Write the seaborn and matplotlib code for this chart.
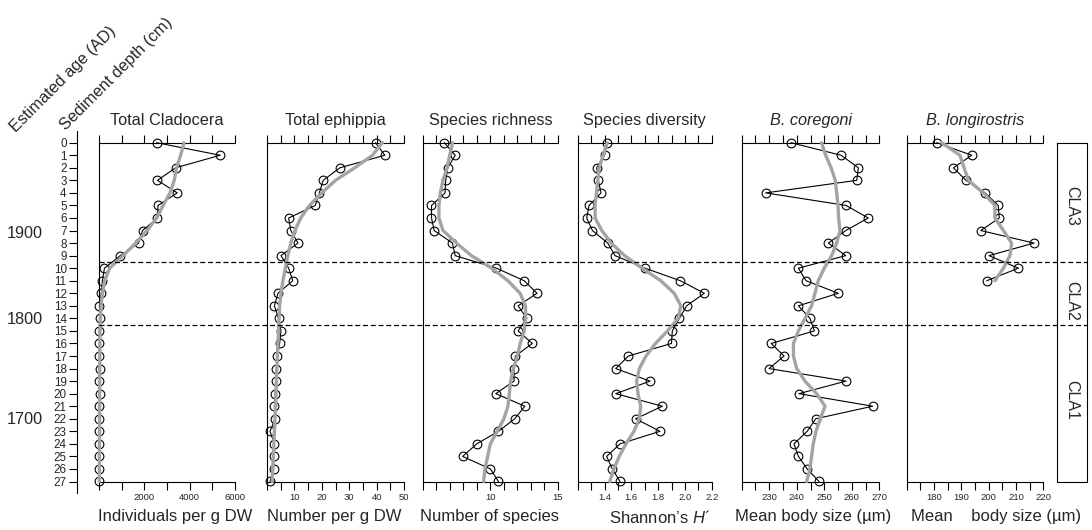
import numpy as np
import pandas as pd
import seaborn as sns
import matplotlib
matplotlib.use("Agg")
import matplotlib.pyplot as plt
from matplotlib import transforms

# ---------------- data ----------------
depths = list(range(28))

cladocera = [2540, 5350, 3380, 2580, 3450, 2600, 2580, 1920, 1750, 940, 240, 150, 100, 20,
             30, 10, 20, 20, 30, 20, 30, 10, 20, 20, 20, 20, 20, 10]
cladocera_smooth = [3750, 3600, 3420, 3320, 3130, 2830, 2540, 2120, 1620, 1060, 470, 250, 150, 90,
                    60, 45, 40, 35, 32, 30, 28, 26, 24, 22, 20, 18, 16, 15]

ephippia = [39.6, 43.0, 26.6, 20.5, 19.1, 17.6, 7.9, 8.7, 11.3, 5.1, 7.9, 9.4, 4.0, 2.7,
            4.2, 5.1, 4.6, 3.8, 3.4, 3.3, 3.0, 2.7, 3.0, 1.1, 2.7, 2.4, 2.4, 1.1]
ephippia_smooth = [42.1, 38.5, 32.0, 25.0, 20.0, 15.5, 12.3, 10.2, 8.7, 7.6, 6.7, 5.8, 5.1, 4.6,
                   4.4, 4.2, 4.0, 3.8, 3.6, 3.4, 3.3, 3.1, 2.9, 2.7, 2.5, 2.3, 2.1, 1.9]

richness = [6.6, 7.4, 6.85, 6.7, 6.65, 5.65, 5.65, 5.85, 7.2, 7.4, 10.45, 12.5, 13.45, 12.05,
            12.7, 12.05, 13.1, 11.85, 11.75, 11.75, 10.4, 12.55, 11.8, 10.6, 9.0, 7.95, 10.0, 10.6]
richness_smooth = [7.2, 7.0, 6.8, 6.5, 6.3, 6.2, 6.2, 6.5, 7.5, 8.6, 10.1, 11.3, 12.2, 12.6,
                   12.6, 12.5, 12.2, 12.0, 11.7, 11.5, 11.4, 11.3, 11.0, 10.5, 10.0, 9.8, 9.6, 9.5]

shannon = [1.421, 1.40, 1.342, 1.354, 1.374, 1.285, 1.267, 1.31, 1.424, 1.479, 1.702, 1.966,
           2.145, 2.013, 1.959, 1.906, 1.90, 1.578, 1.484, 1.74, 1.484, 1.832, 1.632, 1.814,
           1.516, 1.416, 1.458, 1.516]
shannon_smooth = [1.42, 1.39, 1.36, 1.35, 1.34, 1.33, 1.33, 1.38, 1.45, 1.55, 1.68, 1.82, 1.92,
                  1.97, 1.95, 1.87, 1.78, 1.71, 1.66, 1.64, 1.65, 1.67, 1.66, 1.62, 1.56, 1.51,
                  1.47, 1.44]

coregoni = [237.9, 256.1, 262.4, 261.8, 228.7, 257.9, 266.0, 257.8, 251.5, 257.8, 240.6, 243.4,
            255.1, 240.6, 244.8, 246.4, 230.7, 235.4, 229.9, 257.9, 240.8, 267.6, 246.9, 243.8,
            239.0, 240.6, 243.8, 248.1]
coregoni_smooth = [249.0, 250.5, 252.5, 254.0, 254.5, 255.0, 255.2, 255.7, 254.5, 252.7, 250.0,
                   247.8, 246.6, 245.4, 243.0, 240.6, 238.8, 238.8, 240.0, 243.0, 247.2, 250.3,
                   248.5, 247.0, 246.0, 245.4, 244.8, 243.6]

longi_depths = list(range(12))
longirostris = [181.0, 193.8, 187.1, 191.7, 198.7, 203.5, 203.9, 197.1, 216.6, 200.1, 210.9, 199.3]
longirostris_smooth = [182.8, 189.5, 191.0, 192.6, 198.0, 202.3, 202.3, 205.4, 208.4, 207.8,
                       205.4, 202.3]

titles = ["Total Cladocera", "Total ephippia", "Species richness", "Species diversity",
          "B. coregoni", "B. longirostris"]
xlabels = ["Individuals per g DW", "Number per g DW", "Number of species",
           "Shannon\u2019s $\\mathit{H}$\u00b4", "Mean body size (\u00b5m)",
           "Mean    body size (\u00b5m)"]

clad_ticks = [0, 1000, 2000, 3000, 4000, 5000, 6000]
clad_labels = ["", "", "2000", "", "4000", "", "6000"]
eph_ticks = [0, 5, 10, 15, 20, 25, 30, 35, 40, 45, 50]
eph_labels = ["", "", "10", "", "20", "", "30", "", "40", "", "50"]
rich_ticks = [5, 6, 7, 8, 9, 10, 11, 12, 13, 14, 15]
rich_labels = ["", "", "", "", "", "10", "", "", "", "", "15"]
sh_ticks = [1.2, 1.3, 1.4, 1.5, 1.6, 1.7, 1.8, 1.9, 2.0, 2.1, 2.2]
sh_labels = ["", "", "1.4", "", "1.6", "", "1.8", "", "2.0", "", "2.2"]
cor_ticks = [220, 225, 230, 235, 240, 245, 250, 255, 260, 265, 270]
cor_labels = ["", "", "230", "", "240", "", "250", "", "260", "", "270"]
lon_ticks = [170, 175, 180, 185, 190, 195, 200, 205, 210, 215, 220]
lon_labels = ["", "", "180", "", "190", "", "200", "", "210", "", "220"]

zone_bounds = [9.5, 14.5]
zone_names = ["CLA3", "CLA2", "CLA1"]
zone_label_depths = [5.0, 12.6, 20.5]

ages = ["1900", "1800", "1700"]
age_depths = [7.2, 14.1, 22.05]

# ---------------- style ----------------
sns.set_style("white")
plt.rcParams["font.family"] = ["Liberation Sans", "DejaVu Sans"]
plt.rcParams["mathtext.fontset"] = "custom"
plt.rcParams["mathtext.it"] = "Liberation Sans:italic"
plt.rcParams["mathtext.rm"] = "Liberation Sans"

W, H = 1092, 530
fig = plt.figure(figsize=(W / 100, H / 100), dpi=100)
fig.patch.set_facecolor("white")

def rect(x0, x1, y0, y1):
    return [x0 / W, 1 - y1 / H, (x1 - x0) / W, (y1 - y0) / H]

Y0, Y1 = 142.7, 481.5

panels = [
    (99, 235, (0, 6000), cladocera, cladocera_smooth, depths, clad_ticks, clad_labels, 175),
    (267, 404, (0, 50), ephippia, ephippia_smooth, depths, eph_ticks, eph_labels, 334),
    (422.7, 558, (5, 15), richness, richness_smooth, depths, rich_ticks, rich_labels, 490),
    (577.7, 711.7, (1.2, 2.2), shannon, shannon_smooth, depths, sh_ticks, sh_labels, 660),
    (741.7, 879.3, (220, 270), coregoni, coregoni_smooth, depths, cor_ticks, cor_labels, 813),
    (906.7, 1043.3, (170, 220), longirostris, longirostris_smooth, longi_depths, lon_ticks,
     lon_labels, 996),
]

grey = "#a4a4a4"
for i, (x0, x1, xlim, vals, smooth, dep, ticks, labels, lab_c) in enumerate(panels):
    ax = fig.add_axes(rect(x0, x1, Y0, Y1))
    ax.set_facecolor("none")
    sns.lineplot(x=vals, y=dep, orient="y", sort=False, estimator=None, ax=ax,
                 color="black", lw=0.8, marker="o", markersize=6.3,
                 markerfacecolor="none", markeredgecolor="black", markeredgewidth=0.8,
                 zorder=3, clip_on=False)
    sns.lineplot(x=smooth, y=dep, orient="y", sort=False, estimator=None, ax=ax,
                 color=grey, lw=2.4, zorder=4, clip_on=False)
    ax.set_xlim(*xlim)
    ax.set_ylim(27, 0)
    for s in ["left", "top", "bottom"]:
        ax.spines[s].set_visible(True)
        ax.spines[s].set_linewidth(0.8)
        ax.spines[s].set_color("black")
    ax.spines["right"].set_visible(False)
    ax.set_yticks([])
    ax.set_ylabel("")
    ax.set_xticks(ticks)
    ax.set_xticklabels(labels)
    ax.tick_params(axis="x", top=True, bottom=True, direction="out", length=5.5,
                   width=0.8, labelsize=6.8, pad=2.5, color="black")
    ax.set_xlabel(xlabels[i], fontsize=12)
    ax.xaxis.set_label_coords((lab_c - x0) / (x1 - x0), (Y1 - 509) / (Y1 - Y0))
    ax.xaxis.label.set_va("top")
    ax.text(0.5, 1 + 17.5 / (Y1 - Y0), titles[i], transform=ax.transAxes, ha="center",
            va="baseline", fontsize=11.7, fontstyle="italic" if i >= 4 else "normal")

# depth axis
dax = fig.add_axes(rect(76.7, 78, 131, 493.3))
dax.set_facecolor("none")
top_d = (131 - Y0) / ((Y1 - Y0) / 27)
bot_d = (493.3 - Y0) / ((Y1 - Y0) / 27)
dax.set_ylim(bot_d, top_d)
dax.set_xlim(0, 1)
for s in ["right", "top", "bottom"]:
    dax.spines[s].set_visible(False)
dax.spines["left"].set_linewidth(0.8)
dax.spines["left"].set_color("black")
dax.set_xticks([])
dax.set_yticks(depths)
dax.set_yticklabels([str(d) for d in depths])
dax.tick_params(axis="y", left=True, direction="out", length=6, width=0.8, labelsize=8.4,
                pad=1.2, color="black")
trans = transforms.blended_transform_factory(fig.transFigure, dax.transData)
for a, d in zip(ages, age_depths):
    dax.text(43 / W, d, a, transform=trans, ha="right", va="center", fontsize=11.7)

# dashed zone boundaries across panels
oax = fig.add_axes(rect(99, 1088, Y0, Y1))
oax.set_ylim(27, 0)
oax.set_xlim(0, 1)
oax.axis("off")
oax.patch.set_alpha(0)
for b in zone_bounds:
    oax.axhline(b, color="black", lw=0.9, ls=(0, (4, 2.2)))

# zone box
zax = fig.add_axes(rect(1057, 1087, Y0, Y1))
zax.set_facecolor("none")
zax.set_ylim(27, 0)
zax.set_xlim(0, 1)
zax.set_xticks([])
zax.set_yticks([])
for s in zax.spines.values():
    s.set_visible(True)
    s.set_linewidth(0.8)
    s.set_color("black")
for n, d in zip(zone_names, zone_label_depths):
    zax.text(0.5, d, n, rotation=270, ha="center", va="center", fontsize=11.5)

# rotated axis headings
fig.text(16 / W, 1 - 133 / H, "Estimated age (AD)", rotation=45, rotation_mode="anchor",
         ha="left", va="baseline", fontsize=11.8)
fig.text(66 / W, 1 - 131 / H, "Sediment depth (cm)", rotation=45, rotation_mode="anchor",
         ha="left", va="baseline", fontsize=11.8)

fig.savefig("out.png", dpi=100, facecolor="white")
